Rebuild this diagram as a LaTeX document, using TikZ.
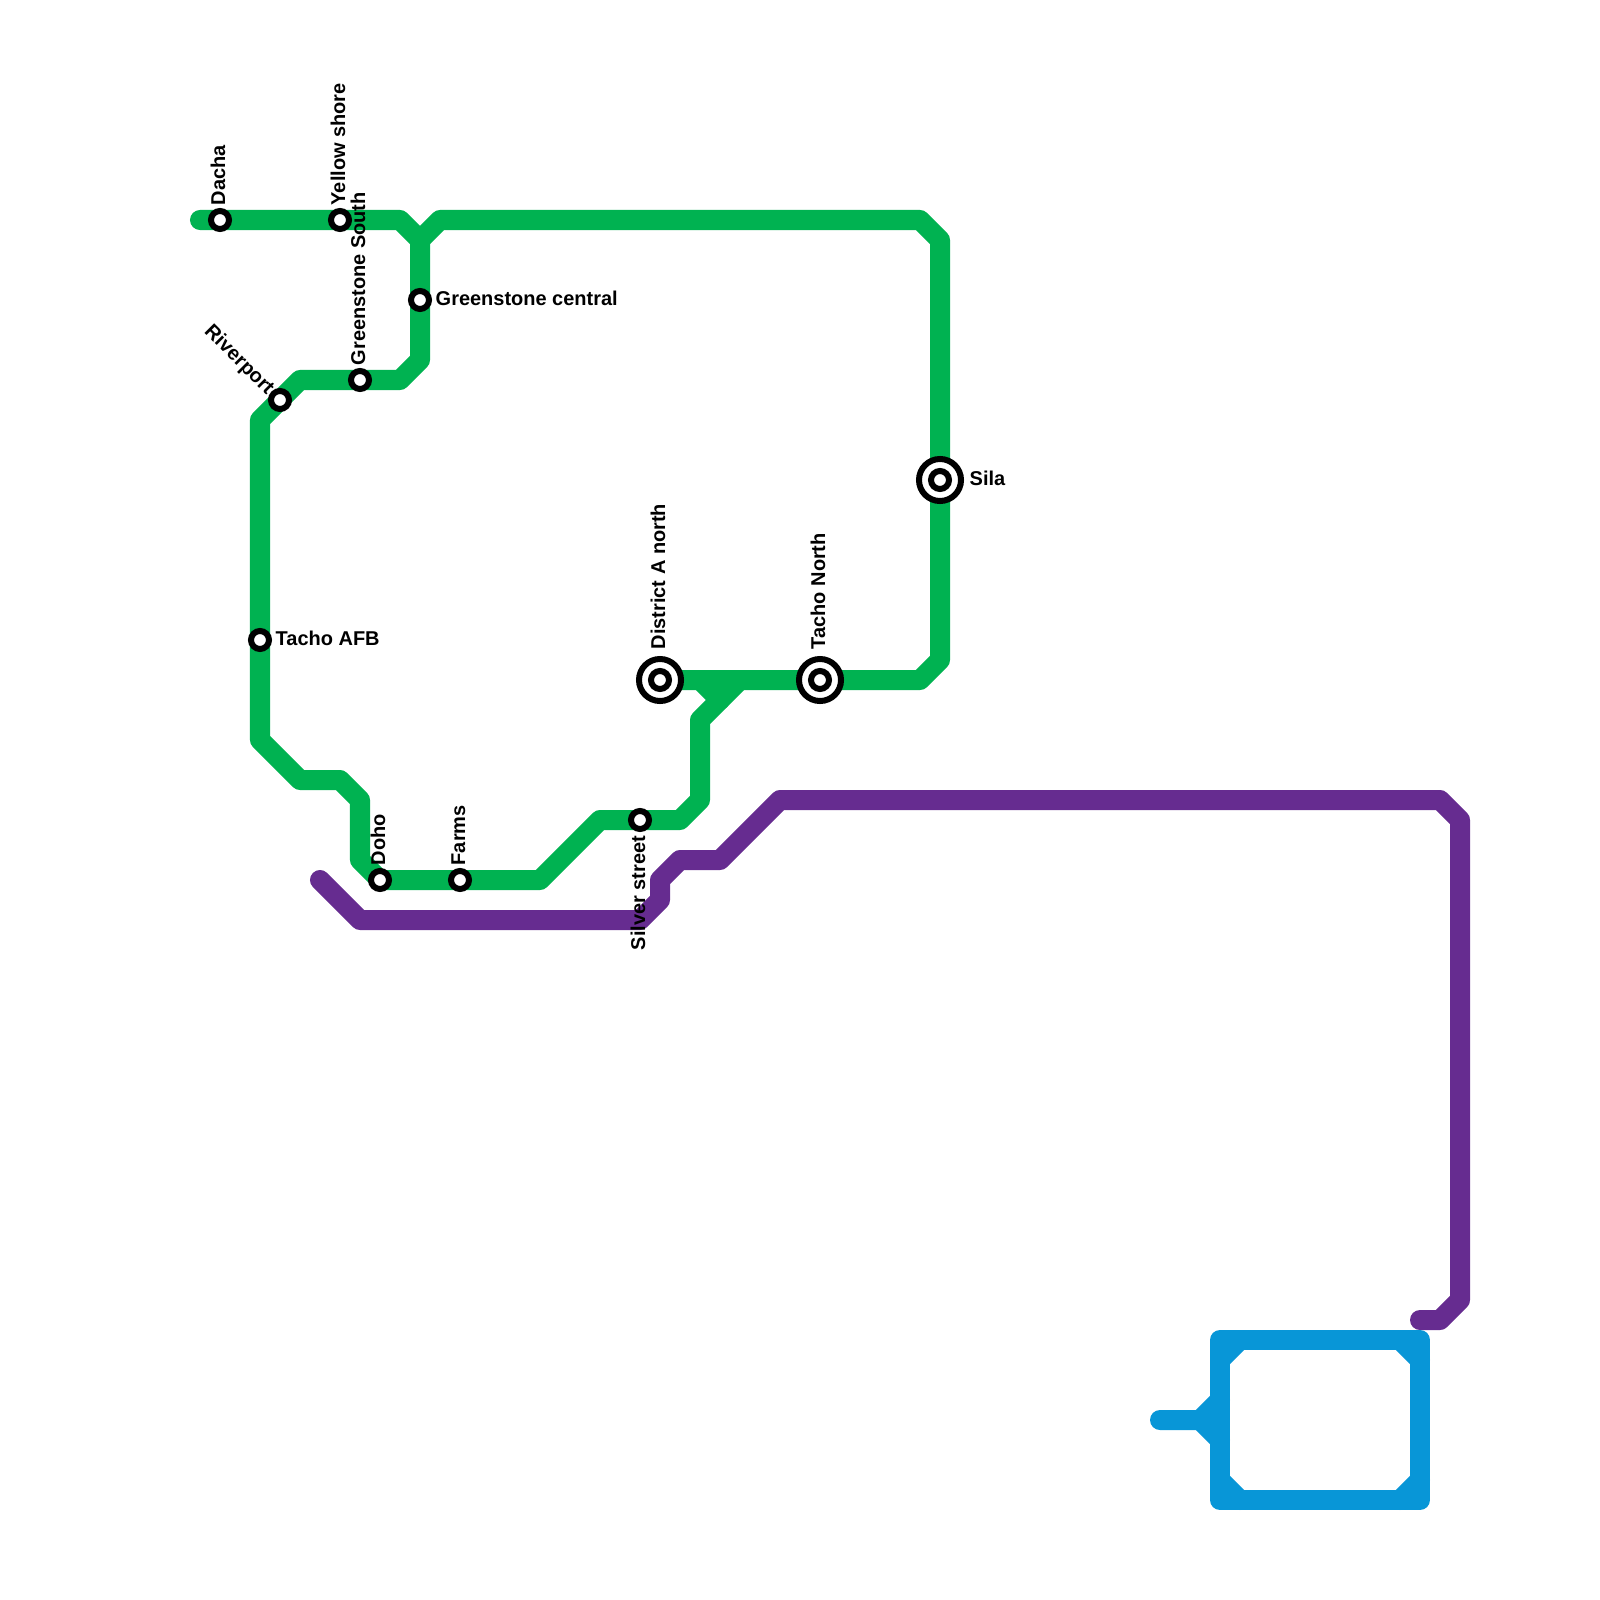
\documentclass[tikz,border=0pt]{standalone}
\usepackage{fontspec}
\setmainfont{Liberation Sans}
\usetikzlibrary{backgrounds}
\definecolor{linegreen}{HTML}{00B251}
\definecolor{linepurple}{HTML}{662C90}
\definecolor{lineblue}{HTML}{0896D7}
\tikzset{
  metro/.style={line width=0.2cm,line cap=round,line join=round},
  station/.style={circle,draw=black,fill=white,line width=0.06cm,minimum size=0.18cm,inner sep=0pt},
  interchange/.style={station,minimum size=0.42cm},
  uplabel/.style={rotate=90,anchor=base west,inner sep=0pt},
  sidelabel/.style={anchor=base west,inner sep=0pt}
}
\begin{document}
\begin{tikzpicture}[x=0.01cm,y=-0.01cm,font=\fontsize{5.68pt}{6.5pt}\selectfont\bfseries]
\useasboundingbox (0,0) rectangle (1600,1600);
\node[station] (dacha) at (220,220) {}; \node[station] (yellow) at (340,220) {};
\node[station] (central) at (420,300) {}; \node[station] (south) at (360,380) {};
\node[station] (riverport) at (280,400) {}; \node[station] (afb) at (260,640) {};
\node[station] (doho) at (380,880) {}; \node[station] (farms) at (460,880) {};
\node[station] (silver) at (640,820) {};
\node[interchange] (district) at (660,680) {}; \node[station] (district hub) at (district) {};
\node[interchange] (tacho) at (820,680) {}; \node[station] (tacho hub) at (tacho) {};
\node[interchange] (sila) at (940,480) {}; \node[station] (sila hub) at (sila) {};
\begin{scope}[on background layer]
\draw[metro,linegreen] (200,220)--(dacha.center)--(yellow.center)--(400,220)--(420,240);
\draw[metro,linegreen] (420,240)--(440,220)--(920,220)--(940,240)--(sila.center)--(940,660)--(920,680)--(tacho.center)--(district.center);
\draw[metro,linegreen] (700,680)--(720,700);
\draw[metro,linegreen] (740,680)--(700,720)--(700,800)--(680,820)--(silver.center)--(600,820)--(540,880)--(farms.center)--(doho.center)--(360,860)--(360,800)--(340,780)--(300,780)--(260,740)--(afb.center)--(260,420)--(riverport.center)--(300,380)--(south.center)--(400,380)--(420,360)--(central.center)--(420,240);
\draw[metro,linepurple] (320,880)--(360,920)--(640,920)--(660,900)--(660,880)--(680,860)--(720,860)--(780,800)--(1440,800)--(1460,820)--(1460,1300)--(1440,1320)--(1420,1320);
\draw[metro,lineblue] (1220,1340)--(1420,1340)--(1420,1500)--(1220,1500)--cycle;
\draw[metro,lineblue] (1220,1360)--(1240,1340); \draw[metro,lineblue] (1400,1340)--(1420,1360);
\draw[metro,lineblue] (1220,1480)--(1240,1500); \draw[metro,lineblue] (1400,1500)--(1420,1480);
\draw[metro,lineblue] (1160,1420)--(1200,1420)--(1220,1400); \draw[metro,lineblue] (1200,1420)--(1220,1440);
\end{scope}
\node[uplabel] (dacha label) at (225,206) {Dacha};
\node[uplabel] (yellow label) at (345,206) {Yellow shore};
\node[uplabel] (south label) at (365,366) {Greenstone South};
\node[uplabel] (doho label) at (385,866) {Doho};
\node[uplabel] (farms label) at (465,866) {Farms};
\node[uplabel] (district label) at (665,650) {District A north};
\node[uplabel] (tacho label) at (825,650) {Tacho North};
\node[rotate=90,anchor=base east,inner sep=0pt] (silver label) at (645,835) {Silver street};
\node[rotate=-45,anchor=base east,inner sep=0pt] (riverport label) at (267,396) {Riverport};
\node[sidelabel] (central label) at (435,305) {Greenstone central};
\node[sidelabel] (afb label) at (275,645) {Tacho AFB};
\node[sidelabel] (sila label) at (969,485) {Sila};
\end{tikzpicture}
\end{document}
